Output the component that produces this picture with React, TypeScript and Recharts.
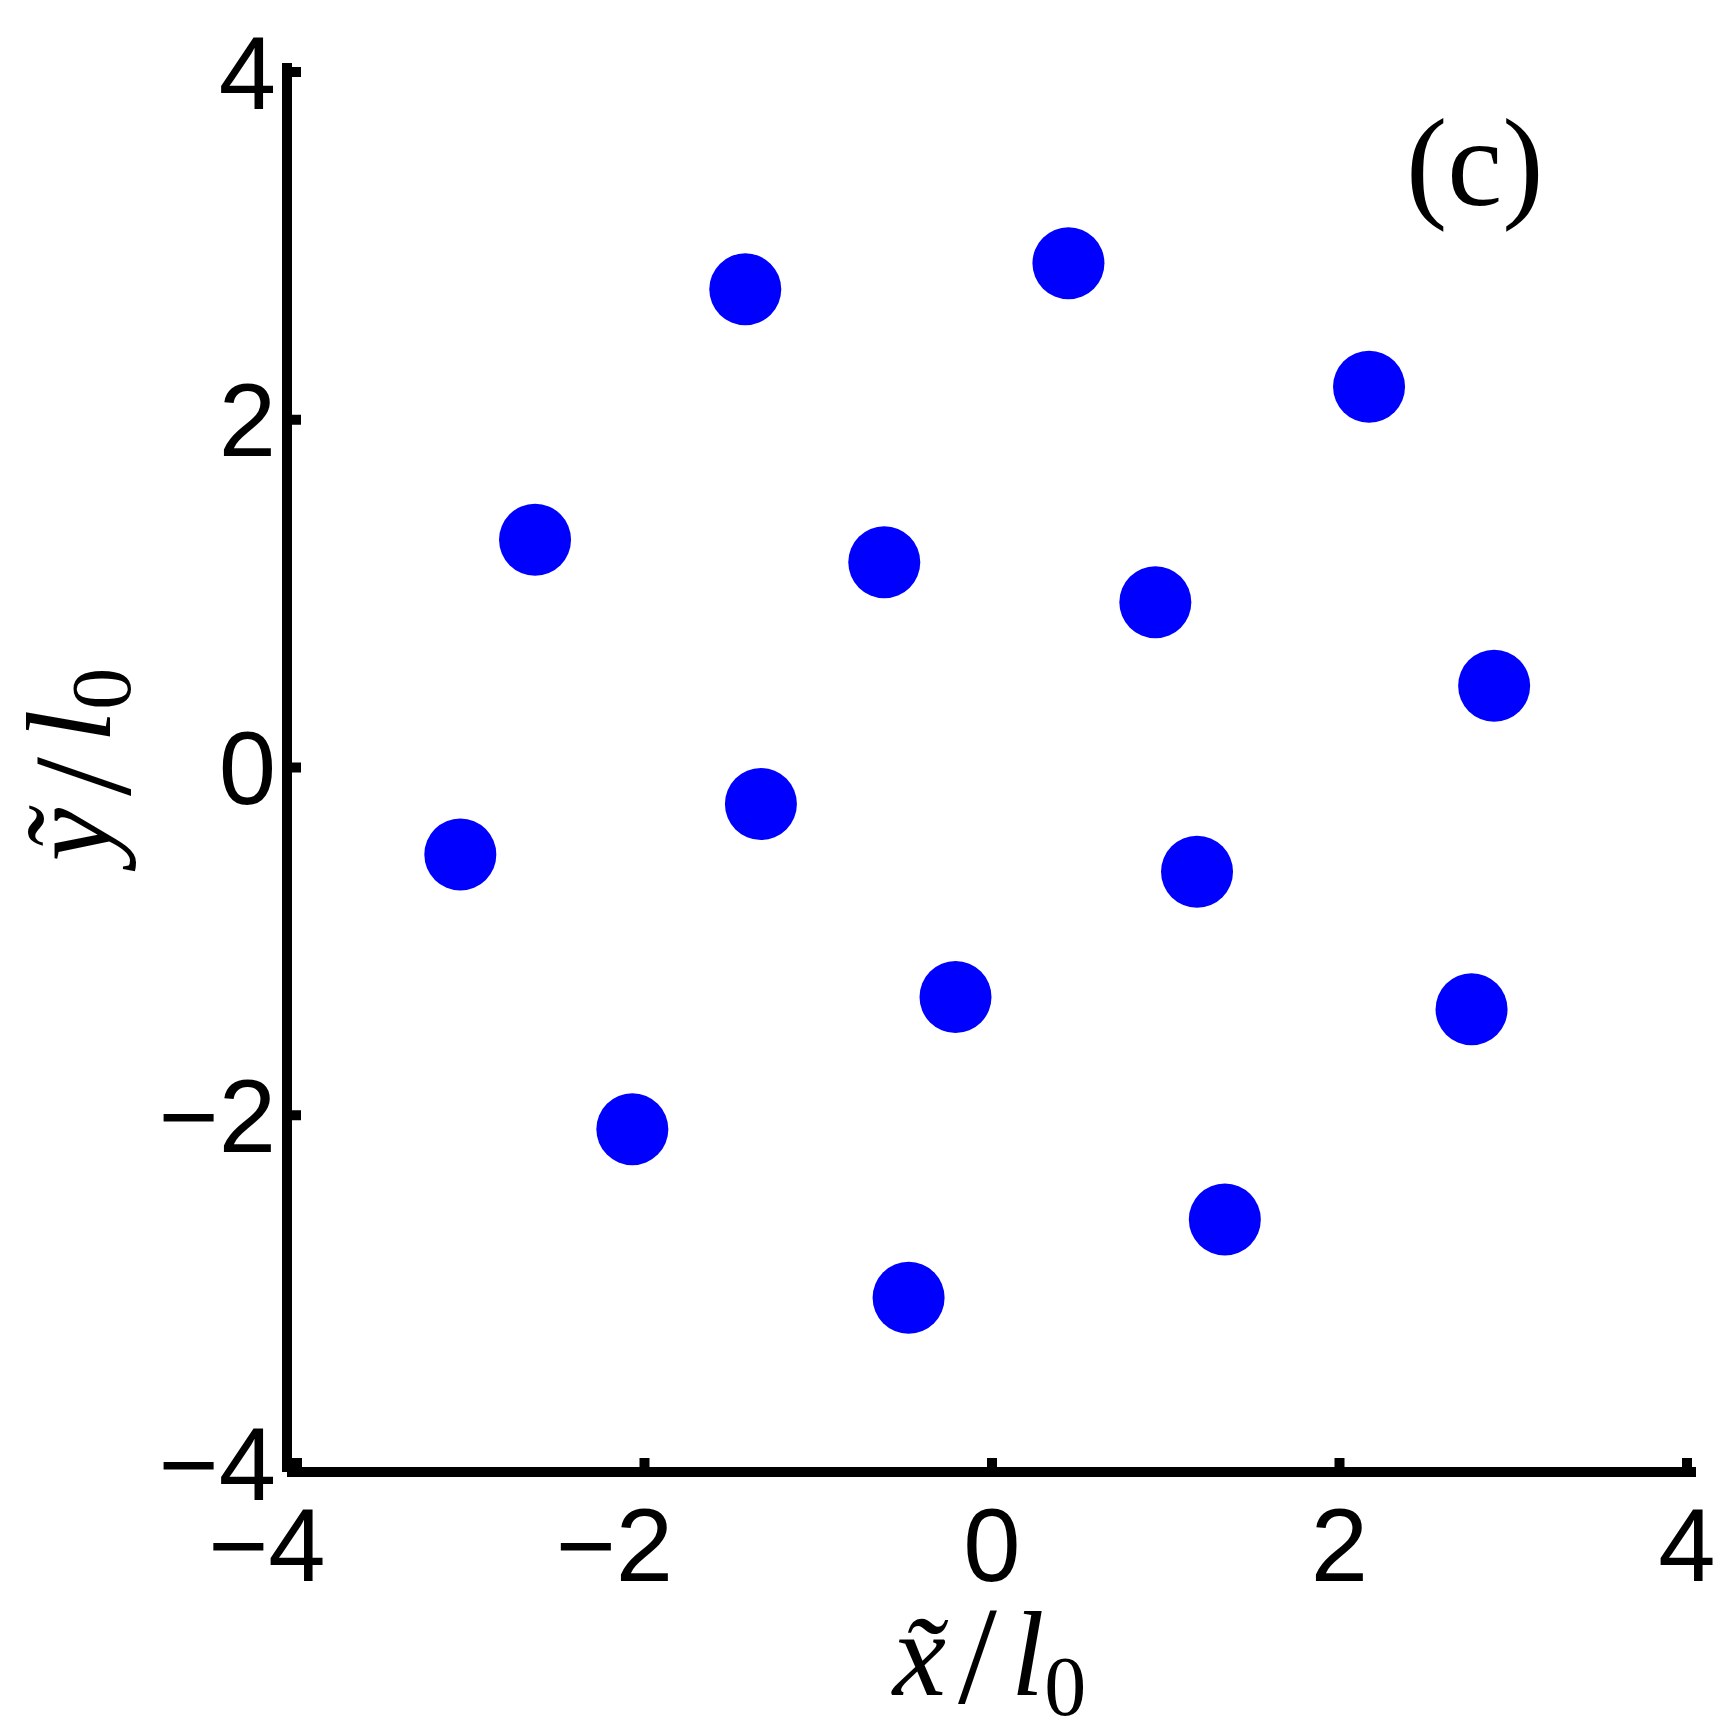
import { ScatterChart, Scatter, XAxis, YAxis } from 'recharts'

// positions, in units of l0
const xs = [-1.42, 0.44, 2.17, -2.63, -0.62, 0.94, 2.89, -1.33, -3.06, 1.18, -0.21, 2.76, -2.07, 1.34, -0.48]
const ys = [2.75, 2.9, 2.19, 1.31, 1.18, 0.95, 0.47, -0.21, -0.5, -0.6, -1.32, -1.39, -2.08, -2.6, -3.05]
const ticks = [-4, -2, 0, 2, 4]

const points = xs.map((x, i) => ({ x, y: ys[i] }))

const sans = 'Liberation Sans, Arial, Helvetica, sans-serif'
const serif = 'Liberation Serif, Times New Roman, serif'
const fontSize = 103
const halfDigit = 0.556 * fontSize / 2

const fmt = (v: number) => (v < 0 ? '\u2212' + Math.abs(v) : String(v))

function XTick(props: any) {
  const { x, y, payload } = props
  return (
    <g>
      <line x1={x} x2={x} y1={y} y2={y - 14} stroke='#000' strokeWidth={10} />
      <text x={x + halfDigit} y={y + 109} textAnchor='end' fontFamily={sans} fontSize={fontSize} fill='#000'>
        {fmt(payload.value)}
      </text>
    </g>
  )
}

function YTick(props: any) {
  const { x, y, payload } = props
  return (
    <g>
      <line x1={x} x2={x + 14} y1={y} y2={y} stroke='#000' strokeWidth={10} />
      <text x={x - 11} y={y} dy='0.355em' textAnchor='end' fontFamily={sans} fontSize={fontSize} fill='#000'>
        {fmt(payload.value)}
      </text>
    </g>
  )
}

// x̃/l₀ and ỹ/l₀ drawn the same way, slashDrop pushes the slash below the baseline
function titleSpans(v: string, slashDrop: number) {
  return [
    <tspan key='v' fontStyle='italic'>{v + '\u0303'}</tspan>,
    <tspan key='s' dx={12} dy={slashDrop} fontSize={140}>/</tspan>,
    <tspan key='l' dx={14} dy={-slashDrop} fontStyle='italic'>l</tspan>,
    <tspan key='o' fontSize={84} dy={20}>0</tspan>,
  ]
}

function XTitle(props: any) {
  const vb = props.viewBox
  const cx = vb.x + vb.width / 2 - 2
  return (
    <text x={cx} y={vb.y + 223} textAnchor='middle' fontFamily={serif} fontSize={120} fill='#000'>
      {titleSpans('x', 8)}
    </text>
  )
}

function YTitle(props: any) {
  const vb = props.viewBox
  const cy = vb.y + vb.height / 2 - 3
  const bx = 110
  return (
    <text
      x={bx}
      y={cy}
      transform={`rotate(-90 ${bx} ${cy})`}
      textAnchor='middle'
      fontFamily={serif}
      fontSize={120}
      fill='#000'
    >
      {titleSpans('y', 20)}
    </text>
  )
}

const renderDot = (props: any) => <circle cx={props.cx} cy={props.cy} r={36} fill='#0000ff' />

export default function App() {
  return (
    <div style={{ position: 'absolute', left: 0, top: 0, background: '#fff' }}>
      <ScatterChart width={1733} height={1734} margin={{ top: 63, right: 37, bottom: 0, left: 0 }}>
        <XAxis
          type='number'
          dataKey='x'
          domain={[-4, 4]}
          ticks={ticks}
          allowDataOverflow
          padding={{ left: 10, right: 9 }}
          height={262}
          tickSize={0}
          tickMargin={0}
          tickLine={false}
          tick={<XTick />}
          axisLine={{ stroke: '#000', strokeWidth: 10 }}
          label={{ content: XTitle }}
        />
        <YAxis
          type='number'
          dataKey='y'
          domain={[-4, 4]}
          ticks={ticks}
          allowDataOverflow
          padding={{ top: 9, bottom: 9 }}
          width={287}
          tickSize={0}
          tickMargin={0}
          tickLine={false}
          tick={<YTick />}
          axisLine={{ stroke: '#000', strokeWidth: 10 }}
          label={{ content: YTitle }}
        />
        <Scatter data={points} shape={renderDot} isAnimationActive={false} />
        <text x={1406} y={205} fontFamily={serif} fontSize={124} fill='#000'>
          (c)
        </text>
      </ScatterChart>
    </div>
  )
}
